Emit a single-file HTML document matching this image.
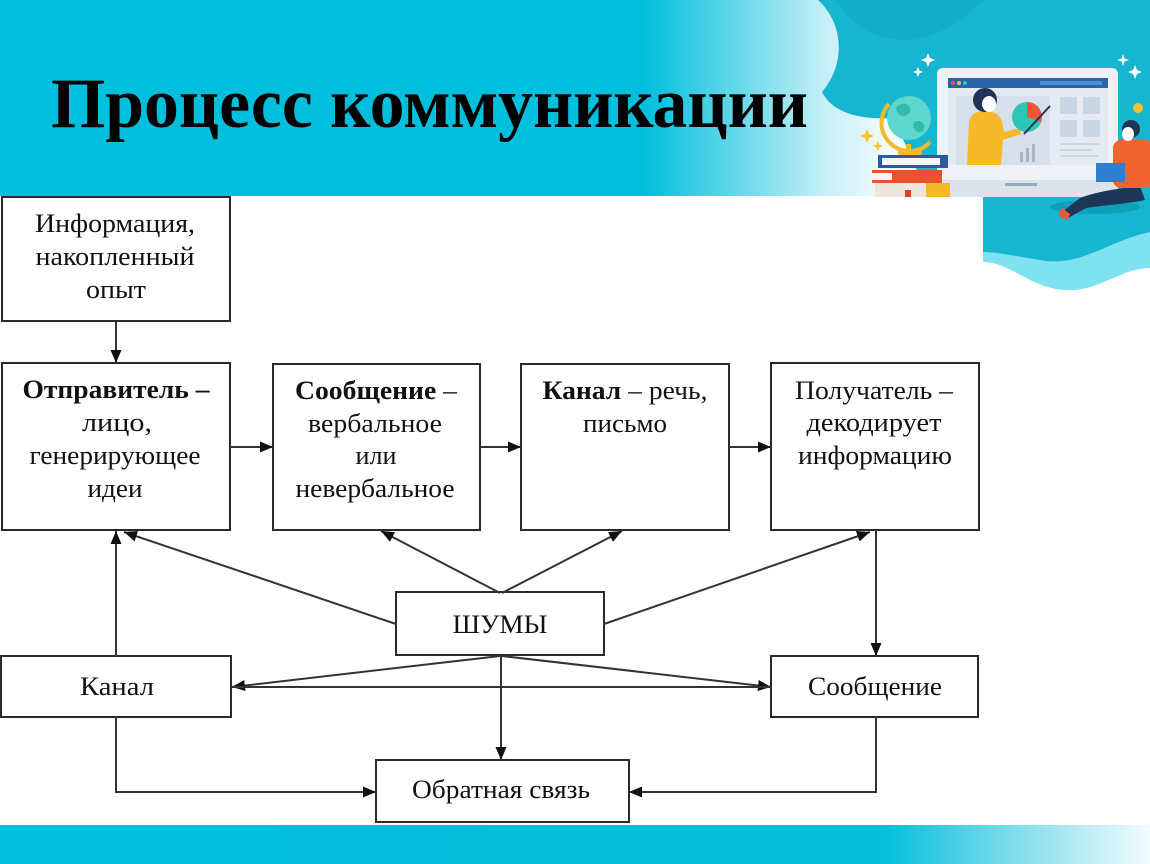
<!DOCTYPE html>
<html><head><meta charset="utf-8"><style>
html,body{margin:0;padding:0;background:#fff;}
svg{display:block;}
.t{font-family:"Liberation Serif","DejaVu Serif",serif;font-size:26px;fill:#111;text-anchor:middle;}
.b{font-weight:bold;}
</style></head><body>
<svg width="1150" height="864" viewBox="0 0 1150 864" xmlns="http://www.w3.org/2000/svg">
<defs>
<linearGradient id="hg" x1="0" y1="0" x2="1150" y2="0" gradientUnits="userSpaceOnUse">
<stop offset="0" stop-color="#00BFDD"/><stop offset="0.56" stop-color="#00BFDD"/>
<stop offset="0.72" stop-color="#C8F0F7"/><stop offset="0.77" stop-color="#F0FBFD"/><stop offset="1" stop-color="#F0FBFD"/>
</linearGradient>
<linearGradient id="bg" x1="0" y1="0" x2="1150" y2="0" gradientUnits="userSpaceOnUse">
<stop offset="0" stop-color="#00BEDC"/><stop offset="0.77" stop-color="#04BFDC"/>
<stop offset="0.88" stop-color="#7DDCEC"/><stop offset="1" stop-color="#F2FCFE"/>
</linearGradient>
<marker id="a" viewBox="0 0 10 10" refX="10" refY="5" markerWidth="13" markerHeight="11" markerUnits="userSpaceOnUse" orient="auto" preserveAspectRatio="none"><path d="M0,0 L10,5 L0,10 z" fill="#111"/></marker>
</defs>

<!-- header -->
<rect x="0" y="0" width="1150" height="196" fill="url(#hg)"/>
<path d="M818,0 C845,25 845,65 822,92 C832,112 858,120 892,118 C905,140 915,170 930,196 L1150,196 L1150,0 Z" fill="#17B6D0"/>
<path d="M835,0 C850,20 862,36 900,40 C935,42 960,20 985,0 Z" fill="#12ADC6"/>
<!-- illustration extension -->
<path d="M983,196 L1150,196 L1150,268 C1120,268 1100,292 1065,290 C1030,288 1010,262 983,262 Z" fill="#7FE2F0"/>
<path d="M983,196 L1150,196 L1150,232 C1110,240 1080,268 1040,260 C1010,255 995,252 983,252 Z" fill="#17B6D0"/>
<ellipse cx="1095" cy="207" rx="45" ry="7" fill="#0F9FB8"/>

<!-- laptop -->
<rect x="937" y="68" width="181" height="129" rx="6" fill="#EEF2F6"/>
<rect x="948" y="78" width="160" height="10" fill="#2C63A8"/>
<circle cx="953" cy="83" r="2" fill="#F0553A"/><circle cx="959" cy="83" r="2" fill="#F6C431"/><circle cx="965" cy="83" r="2" fill="#2EC4B6"/>
<rect x="1040" y="81" width="62" height="4" fill="#4B8DD6"/>
<rect x="948" y="88" width="160" height="77" fill="#E3EAF2"/>
<rect x="956" y="96" width="94" height="69" fill="#D6E0EB"/>
<rect x="1060" y="97" width="17" height="17" fill="#C9D5E3"/><rect x="1083" y="97" width="17" height="17" fill="#C9D5E3"/>
<rect x="1060" y="120" width="17" height="17" fill="#C9D5E3"/><rect x="1083" y="120" width="17" height="17" fill="#C9D5E3"/>
<rect x="1060" y="143" width="40" height="2" fill="#C9D5E3"/><rect x="1060" y="149" width="32" height="2" fill="#C9D5E3"/><rect x="1060" y="155" width="38" height="2" fill="#C9D5E3"/>
<rect x="937" y="180" width="181" height="17" fill="#DCE3EB"/>
<rect x="1005" y="183" width="32" height="3" fill="#9AA7B5"/>
<rect x="1020" y="152" width="3" height="10" fill="#A8B4C2"/><rect x="1026" y="148" width="3" height="14" fill="#A8B4C2"/><rect x="1032" y="144" width="3" height="18" fill="#A8B4C2"/>
<!-- woman -->
<path d="M967,165 L969,122 C970,114 978,111 985,111 C993,111 1000,114 1002,122 L1004,132 L1020,128 L1021,134 L1003,140 L1001,165 Z" fill="#F6B92B"/>
<circle cx="985" cy="100" r="12" fill="#1E3557"/>
<ellipse cx="989" cy="104" rx="7" ry="8" fill="#fff"/>
<circle cx="1027" cy="117" r="15" fill="#2EC4B6"/>
<path d="M1027,117 L1027,102 A15,15 0 0 1 1041,122 Z" fill="#F0553A"/>
<line x1="1024" y1="134" x2="1050" y2="106" stroke="#1E3557" stroke-width="2"/>
<!-- globe -->
<circle cx="909" cy="118" r="22" fill="#5ED6CE"/>
<path d="M896,108 C902,100 912,104 910,112 C906,118 898,118 896,108 Z M914,122 C922,118 928,126 922,132 C916,134 912,128 914,122 Z" fill="#35B8AE"/>
<path d="M889,104 A25,25 0 0 0 930,142" fill="none" stroke="#F5B92E" stroke-width="4"/>
<rect x="906" y="144" width="5" height="8" fill="#F5B92E"/>
<rect x="898" y="150" width="24" height="5" rx="2" fill="#F5B92E"/>
<!-- books -->
<rect x="878" y="155" width="70" height="13" fill="#2C5C9E"/><rect x="882" y="158" width="58" height="7" fill="#F4F6F8"/>
<rect x="872" y="170" width="70" height="13" fill="#E8522F"/><rect x="872" y="173" width="20" height="7" fill="#F4F6F8"/>
<rect x="875" y="183" width="75" height="14" fill="#EEE6DA"/><rect x="926" y="183" width="24" height="14" fill="#F6B92B"/>
<rect x="905" y="190" width="6" height="7" fill="#D8402A"/>
<!-- man -->
<path d="M1140,186 C1120,188 1095,192 1080,198 L1062,212 L1068,218 L1086,208 C1105,205 1125,204 1145,200 Z" fill="#1E3557"/>
<path d="M1062,208 L1058,216 L1068,220 L1070,214 Z" fill="#F0553A"/>
<rect x="1113" y="140" width="40" height="48" rx="8" fill="#F0642F"/>
<circle cx="1131" cy="129" r="9" fill="#1E3557"/>
<ellipse cx="1128" cy="134" rx="6" ry="7" fill="#fff"/>
<rect x="1096" y="163" width="29" height="19" fill="#2F7FD0"/>
<circle cx="1138" cy="108" r="5" fill="#F6C431"/>
<!-- sparkles -->
<g fill="#fff">
<path d="M928,53 L930,58 L935,60 L930,62 L928,67 L926,62 L921,60 L926,58 Z"/>
<path d="M918,67 L919.5,70.5 L923,72 L919.5,73.5 L918,77 L916.5,73.5 L913,72 L916.5,70.5 Z"/>
<path d="M1123,54 L1124.5,58.5 L1129,60 L1124.5,61.5 L1123,66 L1121.5,61.5 L1117,60 L1121.5,58.5 Z"/>
<path d="M1135,65 L1137,70 L1142,72 L1137,74 L1135,79 L1133,74 L1128,72 L1133,70 Z"/>
</g>
<g fill="#F6C431">
<path d="M867,129 L869,134 L874,136 L869,138 L867,143 L865,138 L860,136 L865,134 Z"/>
<path d="M878,141 L879.5,144.5 L883,146 L879.5,147.5 L878,151 L876.5,147.5 L873,146 L876.5,144.5 Z"/>
</g>

<!-- title -->
<text x="51" y="127" font-family="'Liberation Serif',serif" font-weight="bold" font-size="71" fill="#000" textLength="757" lengthAdjust="spacingAndGlyphs">Процесс коммуникации</text>

<!-- bottom band -->
<rect x="0" y="825" width="1150" height="39" fill="url(#bg)"/>

<!-- boxes -->
<g fill="#fff" stroke="#2a2a2a" stroke-width="2">
<rect x="2" y="197" width="228" height="124"/>
<rect x="2" y="363" width="228" height="167"/>
<rect x="273" y="364" width="207" height="166"/>
<rect x="521" y="364" width="208" height="166"/>
<rect x="771" y="363" width="208" height="167"/>
<rect x="396" y="592" width="208" height="63"/>
<rect x="1" y="656" width="230" height="61"/>
<rect x="771" y="656" width="207" height="61"/>
<rect x="376" y="760" width="253" height="62"/>
</g>

<!-- connectors -->
<g stroke="#333" stroke-width="2" fill="none">
<line x1="116" y1="322" x2="116" y2="363" marker-end="url(#a)"/>
<line x1="230" y1="447" x2="273" y2="447" marker-end="url(#a)"/>
<line x1="480" y1="447" x2="521" y2="447" marker-end="url(#a)"/>
<line x1="729" y1="447" x2="771" y2="447" marker-end="url(#a)"/>
<line x1="116" y1="656" x2="116" y2="531" marker-end="url(#a)"/>
<line x1="396" y1="624" x2="124" y2="532" marker-end="url(#a)"/>
<line x1="500" y1="593" x2="381" y2="531" marker-end="url(#a)"/>
<line x1="502" y1="593" x2="622" y2="531" marker-end="url(#a)"/>
<line x1="604" y1="624" x2="870" y2="532" marker-end="url(#a)"/>
<line x1="876" y1="530" x2="876" y2="656" marker-end="url(#a)"/>
<line x1="500" y1="656" x2="232" y2="687" marker-end="url(#a)"/>
<line x1="502" y1="656" x2="771" y2="687" marker-end="url(#a)"/>
<line x1="232" y1="687" x2="771" y2="687"/>
<line x1="501" y1="656" x2="501" y2="760" marker-end="url(#a)"/>
<polyline points="116,717 116,792 376,792" marker-end="url(#a)"/>
<polyline points="876,717 876,792 629,792" marker-end="url(#a)"/>
</g>

<!-- labels -->
<text class="t" x="115" y="232" textLength="160" lengthAdjust="spacingAndGlyphs">Информация,</text>
<text class="t" x="115" y="265" textLength="159" lengthAdjust="spacingAndGlyphs">накопленный</text>
<text class="t" x="116" y="298" textLength="60" lengthAdjust="spacingAndGlyphs">опыт</text>

<text class="t b" x="116" y="398" textLength="187" lengthAdjust="spacingAndGlyphs">Отправитель –</text>
<text class="t" x="117" y="431" textLength="70" lengthAdjust="spacingAndGlyphs">лицо,</text>
<text class="t" x="115" y="464" textLength="171" lengthAdjust="spacingAndGlyphs">генерирующее</text>
<text class="t" x="115" y="497" textLength="55" lengthAdjust="spacingAndGlyphs">идеи</text>

<text class="t" x="376" y="399" textLength="162" lengthAdjust="spacingAndGlyphs"><tspan font-weight="bold">Сообщение</tspan> –</text>
<text class="t" x="375" y="432" textLength="134" lengthAdjust="spacingAndGlyphs">вербальное</text>
<text class="t" x="376" y="464" textLength="41" lengthAdjust="spacingAndGlyphs">или</text>
<text class="t" x="375" y="497" textLength="159" lengthAdjust="spacingAndGlyphs">невербальное</text>

<text class="t" x="625" y="399" textLength="165" lengthAdjust="spacingAndGlyphs"><tspan font-weight="bold">Канал</tspan> – речь,</text>
<text class="t" x="625" y="432" textLength="84" lengthAdjust="spacingAndGlyphs">письмо</text>

<text class="t" x="874" y="399" textLength="158" lengthAdjust="spacingAndGlyphs">Получатель –</text>
<text class="t" x="874" y="431" textLength="135" lengthAdjust="spacingAndGlyphs">декодирует</text>
<text class="t" x="875" y="464" textLength="154" lengthAdjust="spacingAndGlyphs">информацию</text>

<text class="t" x="500" y="633" font-size="28" textLength="95" lengthAdjust="spacingAndGlyphs">ШУМЫ</text>
<text class="t" x="117" y="695" font-size="27" textLength="74" lengthAdjust="spacingAndGlyphs">Канал</text>
<text class="t" x="875" y="695" font-size="27" textLength="134" lengthAdjust="spacingAndGlyphs">Сообщение</text>
<text class="t" x="501" y="798" font-size="26" textLength="178" lengthAdjust="spacingAndGlyphs">Обратная связь</text>
</svg>
</body></html>
